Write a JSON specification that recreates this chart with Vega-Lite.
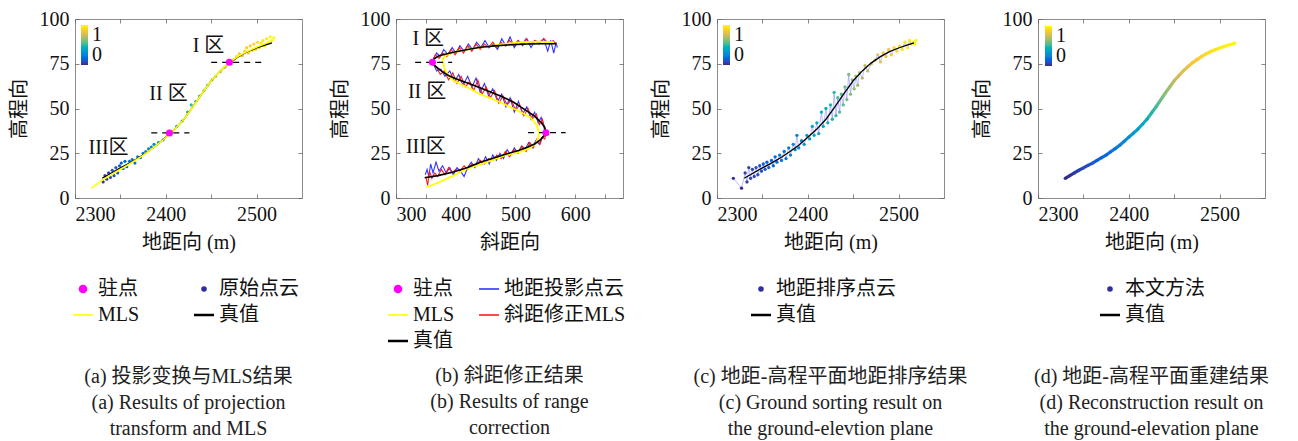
{
  "$schema": "https://vega.github.io/schema/vega-lite/v6.json",
  "background": "white",
  "padding": {"left": 8, "top": 8, "right": 0, "bottom": 0},
  "spacing": 94,
  "bounds": "flush",
  "resolve": {"scale": {"color": "independent", "fill": "independent", "x": "independent", "y": "independent"}, "legend": {"color": "independent", "fill": "independent"}},
  "datasets": {
    "trueG": [
      {"x":2330,"y":11},{"x":2340,"y":14},{"x":2350,"y":16.8},{"x":2360,"y":19.5},{"x":2370,"y":22.5},{"x":2380,"y":25.8},{"x":2390,"y":29.5},{"x":2400,"y":34},{"x":2410,"y":38.5},{"x":2420,"y":44},{"x":2430,"y":51},{"x":2440,"y":58.5},{"x":2450,"y":65.5},{"x":2460,"y":71},{"x":2470,"y":75.5},{"x":2480,"y":79},{"x":2490,"y":81.8},{"x":2500,"y":83.8},{"x":2510,"y":85.5},{"x":2517,"y":86.6}
    ],
    "mlsA": [
      {"x":2318,"y":5.5},{"x":2330,"y":10},{"x":2345,"y":14.5},{"x":2360,"y":19},{"x":2375,"y":23.8},{"x":2390,"y":29.5},{"x":2400,"y":33.8},{"x":2410,"y":38.5},{"x":2420,"y":44},{"x":2430,"y":51},{"x":2440,"y":58.5},{"x":2450,"y":65.5},{"x":2460,"y":71},{"x":2470,"y":75.8},{"x":2480,"y":79.3},{"x":2490,"y":82},{"x":2500,"y":84.3},{"x":2510,"y":86.5},{"x":2518,"y":88.5}
    ],
    "rawA": [
      {"x":2331,"y":9,"c":0.03},{"x":2333,"y":12.5,"c":0.05},{"x":2335,"y":10.5,"c":0.06},{"x":2337,"y":14,"c":0.07},{"x":2339,"y":11.5,"c":0.07},{"x":2341,"y":15.5,"c":0.09},{"x":2343,"y":12.5,"c":0.1},{"x":2345,"y":17,"c":0.11},{"x":2347,"y":14,"c":0.11},{"x":2349,"y":18,"c":0.12},{"x":2351,"y":19.5,"c":0.14},{"x":2353,"y":16.5,"c":0.14},{"x":2355,"y":20.5,"c":0.16},{"x":2357,"y":17.5,"c":0.16},{"x":2360,"y":20.5,"c":0.17},{"x":2363,"y":21.5,"c":0.19},{"x":2366,"y":19.5,"c":0.19},{"x":2369,"y":23,"c":0.21},{"x":2372,"y":22.5,"c":0.22},{"x":2375,"y":25,"c":0.23},{"x":2378,"y":26,"c":0.24},{"x":2381,"y":27.5,"c":0.26},{"x":2384,"y":28.5,"c":0.27},{"x":2387,"y":30,"c":0.28},{"x":2392,"y":31,"c":0.3},{"x":2397,"y":32.5,"c":0.32},
      {"x":2412,"y":40,"c":0.4},{"x":2418,"y":43,"c":0.44},{"x":2424,"y":48,"c":0.48},{"x":2428,"y":52,"c":0.5},{"x":2433,"y":54,"c":0.53},{"x":2437,"y":57,"c":0.55},{"x":2442,"y":60,"c":0.58},{"x":2446,"y":63,"c":0.6},{"x":2451,"y":66,"c":0.63},{"x":2455,"y":68,"c":0.66},{"x":2460,"y":70.5,"c":0.7},{"x":2465,"y":73,"c":0.73},
      {"x":2475,"y":77.5,"c":0.8},{"x":2478,"y":79,"c":0.82},{"x":2481,"y":80.5,"c":0.83},{"x":2484,"y":79.5,"c":0.84},{"x":2487,"y":82,"c":0.86},{"x":2489,"y":84,"c":0.87},{"x":2491,"y":81,"c":0.87},{"x":2493,"y":85,"c":0.88},{"x":2495,"y":82.5,"c":0.89},{"x":2497,"y":86,"c":0.9},{"x":2499,"y":83,"c":0.91},{"x":2501,"y":87,"c":0.92},{"x":2503,"y":84,"c":0.93},{"x":2505,"y":86.5,"c":0.94},{"x":2507,"y":88,"c":0.95},{"x":2509,"y":85,"c":0.95},{"x":2511,"y":89,"c":0.96},{"x":2513,"y":86.5,"c":0.97},{"x":2515,"y":90,"c":0.98},{"x":2517,"y":88,"c":0.99},{"x":2519,"y":89.5,"c":1}
    ],
    "stA": [{"x":2470,"y":75.8},{"x":2404,"y":36.3}],
    "dashA": [{"x":2450,"x2":2509,"y":75.8},{"x":2384,"x2":2426,"y":36.4}],
    "txtA": [{"x":2447,"y":85,"t":"I 区"},{"x":2403,"y":58,"t":"II 区"},{"x":2337,"y":28,"t":"III区"}],
    "trueB": [
      {"i":0,"x":348,"y":11.3},{"i":1,"x":370,"y":12.5},{"i":2,"x":396,"y":14.5},{"i":3,"x":420,"y":17},{"i":4,"x":441,"y":20},{"i":5,"x":465,"y":22.5},{"i":6,"x":486,"y":24.7},{"i":7,"x":505,"y":26.5},{"i":8,"x":520,"y":28.4},{"i":9,"x":532,"y":30.2},{"i":10,"x":541,"y":32.3},{"i":11,"x":547,"y":34.5},{"i":12,"x":551,"y":36.8},{"i":13,"x":549,"y":39.5},{"i":14,"x":543,"y":42.2},{"i":15,"x":531,"y":46},{"i":16,"x":515,"y":49.5},{"i":17,"x":497,"y":53.5},{"i":18,"x":475,"y":57},{"i":19,"x":452,"y":60},{"i":20,"x":430,"y":63},{"i":21,"x":408,"y":65.6},{"i":22,"x":390,"y":68},{"i":23,"x":378,"y":70.5},{"i":24,"x":369,"y":72.8},{"i":25,"x":363,"y":74.5},{"i":26,"x":361,"y":76},{"i":27,"x":364,"y":77.8},{"i":28,"x":372,"y":79.5},{"i":29,"x":396,"y":81.4},{"i":30,"x":420,"y":83},{"i":31,"x":441,"y":84.2},{"i":32,"x":465,"y":85},{"i":33,"x":486,"y":85.5},{"i":34,"x":520,"y":86},{"i":35,"x":545,"y":86.2},{"i":36,"x":568,"y":86.2}
    ],
    "mlsB": [
      {"i":0,"x":351,"y":6},{"i":1,"x":374,"y":9},{"i":2,"x":396,"y":12.6},{"i":3,"x":420,"y":16.5},{"i":4,"x":452,"y":20},{"i":5,"x":480,"y":23.5},{"i":6,"x":508,"y":25.8},{"i":7,"x":525,"y":28},{"i":8,"x":534,"y":30.5},{"i":9,"x":538,"y":33.5},{"i":10,"x":539,"y":36.8},{"i":11,"x":536,"y":40.5},{"i":12,"x":525,"y":45},{"i":13,"x":506,"y":48.5},{"i":14,"x":486,"y":51.7},{"i":15,"x":464,"y":55},{"i":16,"x":441,"y":58},{"i":17,"x":418,"y":62},{"i":18,"x":396,"y":65.6},{"i":19,"x":386,"y":69},{"i":20,"x":381,"y":72.5},{"i":21,"x":379,"y":75.5},{"i":22,"x":378,"y":77.7},{"i":23,"x":385,"y":80},{"i":24,"x":400,"y":81.8},{"i":25,"x":424,"y":83.3},{"i":26,"x":450,"y":84.6},{"i":27,"x":480,"y":86},{"i":28,"x":510,"y":87},{"i":29,"x":536,"y":87.4},{"i":30,"x":564,"y":87}
    ],
    "redB": [
      {"i":0,"x":350,"y":12},{"i":1,"x":353,"y":7},{"i":2,"x":356,"y":15},{"i":3,"x":360,"y":11},{"i":4,"x":365,"y":14},{"i":5,"x":370,"y":12},{"i":6,"x":376,"y":16},{"i":7,"x":382,"y":13},{"i":8,"x":388,"y":17},{"i":9,"x":394,"y":14},{"i":10,"x":400,"y":16},{"i":11,"x":407,"y":15},{"i":12,"x":414,"y":18},{"i":13,"x":420,"y":16},{"i":14,"x":427,"y":19},{"i":15,"x":434,"y":18},{"i":16,"x":441,"y":21},{"i":17,"x":448,"y":19},{"i":18,"x":455,"y":22},{"i":19,"x":462,"y":21},{"i":20,"x":469,"y":24},{"i":21,"x":476,"y":22},{"i":22,"x":483,"y":26},{"i":23,"x":490,"y":23},{"i":24,"x":497,"y":27},{"i":25,"x":504,"y":25},{"i":26,"x":511,"y":29},{"i":27,"x":518,"y":26},{"i":28,"x":524,"y":31},{"i":29,"x":530,"y":28},{"i":30,"x":536,"y":33},{"i":31,"x":541,"y":30},{"i":32,"x":545,"y":34},{"i":33,"x":549,"y":33},{"i":34,"x":551,"y":36},
      {"i":35,"x":548,"y":40},{"i":36,"x":545,"y":44},{"i":37,"x":540,"y":41},{"i":38,"x":535,"y":47},{"i":39,"x":528,"y":44},{"i":40,"x":521,"y":50},{"i":41,"x":514,"y":46},{"i":42,"x":507,"y":52},{"i":43,"x":500,"y":49},{"i":44,"x":493,"y":55},{"i":45,"x":486,"y":52},{"i":46,"x":479,"y":57},{"i":47,"x":472,"y":53},{"i":48,"x":465,"y":60},{"i":49,"x":458,"y":56},{"i":50,"x":451,"y":62},{"i":51,"x":444,"y":58},{"i":52,"x":437,"y":66},{"i":53,"x":430,"y":60},{"i":54,"x":423,"y":65},{"i":55,"x":416,"y":62},{"i":56,"x":409,"y":68},{"i":57,"x":402,"y":64},{"i":58,"x":395,"y":70},{"i":59,"x":388,"y":66},{"i":60,"x":381,"y":71},{"i":61,"x":374,"y":69},{"i":62,"x":368,"y":73},{"i":63,"x":363,"y":75},
      {"i":64,"x":362,"y":77},{"i":65,"x":366,"y":80},{"i":66,"x":372,"y":78},{"i":67,"x":378,"y":81},{"i":68,"x":385,"y":79},{"i":69,"x":392,"y":83},{"i":70,"x":399,"y":80},{"i":71,"x":406,"y":84},{"i":72,"x":413,"y":81},{"i":73,"x":420,"y":85},{"i":74,"x":427,"y":82},{"i":75,"x":434,"y":86},{"i":76,"x":441,"y":83},{"i":77,"x":448,"y":86},{"i":78,"x":455,"y":84},{"i":79,"x":462,"y":87},{"i":80,"x":469,"y":84},{"i":81,"x":476,"y":87},{"i":82,"x":483,"y":85},{"i":83,"x":490,"y":88},{"i":84,"x":497,"y":85},{"i":85,"x":504,"y":88},{"i":86,"x":511,"y":86},{"i":87,"x":518,"y":89},{"i":88,"x":525,"y":86},{"i":89,"x":532,"y":88},{"i":90,"x":540,"y":87},{"i":91,"x":548,"y":89},{"i":92,"x":556,"y":86},{"i":93,"x":563,"y":88},{"i":94,"x":568,"y":86}
    ],
    "blueB": [
      {"i":0,"x":349,"y":13},{"i":1,"x":352,"y":16},{"i":2,"x":355,"y":12},{"i":3,"x":358,"y":19},{"i":4,"x":362,"y":14},{"i":5,"x":367,"y":20},{"i":6,"x":372,"y":15},{"i":7,"x":378,"y":18},{"i":8,"x":384,"y":14},{"i":9,"x":390,"y":17},{"i":10,"x":396,"y":13},{"i":11,"x":402,"y":17},{"i":12,"x":408,"y":15},{"i":13,"x":414,"y":12},{"i":14,"x":420,"y":17},{"i":15,"x":426,"y":20},{"i":16,"x":432,"y":17},{"i":17,"x":438,"y":22},{"i":18,"x":444,"y":19},{"i":19,"x":450,"y":23},{"i":20,"x":456,"y":19},{"i":21,"x":462,"y":24},{"i":22,"x":468,"y":21},{"i":23,"x":474,"y":25},{"i":24,"x":480,"y":22},{"i":25,"x":486,"y":27},{"i":26,"x":492,"y":24},{"i":27,"x":498,"y":28},{"i":28,"x":504,"y":25},{"i":29,"x":510,"y":29},{"i":30,"x":516,"y":27},{"i":31,"x":522,"y":31},{"i":32,"x":528,"y":28},{"i":33,"x":534,"y":32},{"i":34,"x":540,"y":30},{"i":35,"x":545,"y":34},{"i":36,"x":550,"y":35},
      {"i":37,"x":547,"y":41},{"i":38,"x":543,"y":45},{"i":39,"x":538,"y":42},{"i":40,"x":532,"y":48},{"i":41,"x":526,"y":44},{"i":42,"x":519,"y":51},{"i":43,"x":512,"y":47},{"i":44,"x":505,"y":54},{"i":45,"x":498,"y":48},{"i":46,"x":491,"y":56},{"i":47,"x":484,"y":51},{"i":48,"x":477,"y":58},{"i":49,"x":470,"y":54},{"i":50,"x":462,"y":61},{"i":51,"x":455,"y":57},{"i":52,"x":448,"y":64},{"i":53,"x":441,"y":59},{"i":54,"x":434,"y":67},{"i":55,"x":427,"y":62},{"i":56,"x":420,"y":68},{"i":57,"x":412,"y":63},{"i":58,"x":405,"y":69},{"i":59,"x":398,"y":65},{"i":60,"x":390,"y":71},{"i":61,"x":382,"y":68},{"i":62,"x":375,"y":72},{"i":63,"x":368,"y":71},{"i":64,"x":364,"y":74},
      {"i":65,"x":363,"y":78},{"i":66,"x":368,"y":81},{"i":67,"x":374,"y":79},{"i":68,"x":380,"y":83},{"i":69,"x":387,"y":80},{"i":70,"x":394,"y":84},{"i":71,"x":400,"y":81},{"i":72,"x":407,"y":85},{"i":73,"x":414,"y":82},{"i":74,"x":421,"y":86},{"i":75,"x":428,"y":83},{"i":76,"x":435,"y":87},{"i":77,"x":442,"y":84},{"i":78,"x":449,"y":88},{"i":79,"x":456,"y":84},{"i":80,"x":463,"y":86},{"i":81,"x":470,"y":83},{"i":82,"x":477,"y":89},{"i":83,"x":484,"y":85},{"i":84,"x":491,"y":90},{"i":85,"x":498,"y":84},{"i":86,"x":505,"y":88},{"i":87,"x":512,"y":85},{"i":88,"x":519,"y":89},{"i":89,"x":526,"y":84},{"i":90,"x":533,"y":88},{"i":91,"x":540,"y":86},{"i":92,"x":547,"y":89},{"i":93,"x":554,"y":82},{"i":94,"x":559,"y":88},{"i":95,"x":564,"y":81},{"i":96,"x":568,"y":87},{"i":97,"x":570,"y":84}
    ],
    "stB": [{"x":361,"y":75.8},{"x":551,"y":36.5}],
    "dashB": [{"x":332,"x2":394,"y":75.8},{"x":521,"x2":584,"y":36.5}],
    "txtB": [{"x":354,"y":88.8,"t":"I 区"},{"x":352,"y":59,"t":"II 区"},{"x":350,"y":28.4,"t":"III区"}],
    "rawC": [
      {"x":2318,"y":11,"c":0.02},{"x":2327,"y":5.5,"c":0},{"x":2331,"y":14,"c":0.05},{"x":2333,"y":9,"c":0.04},{"x":2335,"y":17,"c":0.06},{"x":2337,"y":11,"c":0.05},{"x":2339,"y":16,"c":0.07},{"x":2341,"y":12,"c":0.07},{"x":2343,"y":17,"c":0.09},{"x":2345,"y":13,"c":0.09},{"x":2347,"y":18,"c":0.1},{"x":2349,"y":15,"c":0.1},{"x":2351,"y":19,"c":0.12},{"x":2353,"y":16,"c":0.12},{"x":2355,"y":20,"c":0.13},{"x":2357,"y":17,"c":0.14},{"x":2360,"y":21,"c":0.15},{"x":2362,"y":18,"c":0.16},{"x":2364,"y":23,"c":0.17},{"x":2366,"y":20,"c":0.18},{"x":2369,"y":24,"c":0.19},{"x":2371,"y":21,"c":0.2},{"x":2374,"y":26,"c":0.21},{"x":2376,"y":22,"c":0.22},{"x":2379,"y":28,"c":0.23},{"x":2381,"y":24,"c":0.24},{"x":2384,"y":30,"c":0.25},{"x":2386,"y":27,"c":0.26},{"x":2388,"y":35,"c":0.27},{"x":2390,"y":28,"c":0.28},{"x":2393,"y":32,"c":0.3},{"x":2396,"y":30,"c":0.31},{"x":2399,"y":35,"c":0.33},{"x":2402,"y":33,"c":0.35},{"x":2405,"y":40,"c":0.37},{"x":2407,"y":35,"c":0.38},{"x":2410,"y":42,"c":0.4},{"x":2412,"y":36,"c":0.41},{"x":2415,"y":48,"c":0.43},{"x":2417,"y":40,"c":0.44},{"x":2420,"y":50,"c":0.45},{"x":2422,"y":42,"c":0.46},{"x":2425,"y":52,"c":0.48},{"x":2427,"y":44,"c":0.49},{"x":2429,"y":59,"c":0.5},{"x":2431,"y":46,"c":0.51},{"x":2433,"y":56,"c":0.53},{"x":2435,"y":48,"c":0.54},{"x":2437,"y":58,"c":0.55},{"x":2439,"y":52,"c":0.56},{"x":2441,"y":62,"c":0.58},{"x":2443,"y":55,"c":0.59},{"x":2445,"y":69,"c":0.6},{"x":2447,"y":58,"c":0.62},{"x":2449,"y":66,"c":0.63},{"x":2451,"y":61,"c":0.64},{"x":2453,"y":68,"c":0.66},{"x":2455,"y":63,"c":0.67},{"x":2457,"y":70,"c":0.68},{"x":2460,"y":67,"c":0.7},{"x":2463,"y":74,"c":0.72},{"x":2466,"y":71,"c":0.74},{"x":2470,"y":75,"c":0.77},{"x":2474,"y":77,"c":0.8},{"x":2477,"y":80,"c":0.81},{"x":2480,"y":76,"c":0.82},{"x":2483,"y":81,"c":0.84},{"x":2486,"y":79,"c":0.85},{"x":2489,"y":83,"c":0.87},{"x":2492,"y":80,"c":0.88},{"x":2495,"y":84,"c":0.9},{"x":2498,"y":82,"c":0.91},{"x":2501,"y":85,"c":0.93},{"x":2504,"y":83,"c":0.94},{"x":2507,"y":87,"c":0.95},{"x":2510,"y":84,"c":0.96},{"x":2512,"y":88,"c":0.97},{"x":2514,"y":86,"c":0.98},{"x":2516,"y":87,"c":0.99},{"x":2518,"y":86,"c":1},{"x":2519,"y":88,"c":1}
    ],
    "recD": [
      {"x":2330,"y":11,"c":0},{"x":2335,"y":12.5,"c":0.02},{"x":2340,"y":14,"c":0.04},{"x":2345,"y":15.5,"c":0.06},{"x":2350,"y":16.8,"c":0.08},{"x":2355,"y":18.2,"c":0.09},{"x":2360,"y":19.5,"c":0.11},{"x":2365,"y":21,"c":0.13},{"x":2370,"y":22.5,"c":0.15},{"x":2375,"y":24,"c":0.17},{"x":2380,"y":25.8,"c":0.19},{"x":2385,"y":27.6,"c":0.22},{"x":2390,"y":29.5,"c":0.24},{"x":2395,"y":31.7,"c":0.27},{"x":2400,"y":34,"c":0.3},{"x":2405,"y":36.2,"c":0.33},{"x":2410,"y":38.5,"c":0.36},{"x":2415,"y":41.2,"c":0.4},{"x":2420,"y":44,"c":0.43},{"x":2425,"y":47.5,"c":0.48},{"x":2430,"y":51,"c":0.53},{"x":2435,"y":54.7,"c":0.58},{"x":2440,"y":58.5,"c":0.63},{"x":2445,"y":62,"c":0.67},{"x":2450,"y":65.5,"c":0.72},{"x":2455,"y":68.3,"c":0.75},{"x":2460,"y":71,"c":0.79},{"x":2465,"y":73.3,"c":0.82},{"x":2470,"y":75.5,"c":0.85},{"x":2475,"y":77.3,"c":0.87},{"x":2480,"y":79,"c":0.89},{"x":2485,"y":80.5,"c":0.91},{"x":2490,"y":81.8,"c":0.93},{"x":2495,"y":82.8,"c":0.94},{"x":2500,"y":83.8,"c":0.96},{"x":2505,"y":84.7,"c":0.97},{"x":2510,"y":85.5,"c":0.98},{"x":2515,"y":86.2,"c":0.99},{"x":2517,"y":86.6,"c":1}
    ]
  },
  "hconcat": [
    {
      "width": 227, "height": 179,
      "title": {"text": ["(a) 投影变换与MLS结果", "(a) Results of projection", "transform and MLS"], "orient": "bottom", "anchor": "middle", "frame": "group", "offset": 42},
      "layer": [
        {"data": {"name": "rawA"}, "mark": {"type": "point", "filled": true, "size": 10, "opacity": 1},
         "encoding": {
           "x": {"field": "x", "type": "quantitative", "scale": {"domain": [2300, 2550], "nice": false}, "axis": {"orient": "bottom", "title": "地距向 (m)", "values": [2300, 2350, 2400, 2450, 2500], "format": "d", "labelExpr": "datum.value % 100 == 0 ? datum.label : ''"}},
           "y": {"field": "y", "type": "quantitative", "scale": {"domain": [0, 100], "nice": false}, "axis": {"orient": "left", "title": "高程向", "values": [0, 25, 50, 75, 100]}},
           "fill": {"field": "c", "type": "quantitative", "scale": {"domain": [0, 0.125, 0.25, 0.375, 0.5, 0.625, 0.75, 0.875, 1], "range": ["#352a87", "#0f5cdd", "#1481d6", "#06a4ca", "#2eb7a4", "#87bf77", "#d1bb59", "#fec832", "#f9fb0e"]},
             "legend": {"orient": "top-left", "offset": 6, "title": null, "values": [0, 1], "format": "d", "direction": "vertical", "gradientLength": 40, "gradientThickness": 7, "gradientStrokeWidth": 0, "labelFontSize": 20, "labelOffset": 4, "padding": 0}}
         }},
        {"data": {"name": "trueG"}, "mark": {"type": "line", "strokeWidth": 1.3},
         "encoding": {"x": {"field": "x", "type": "quantitative", "axis": null}, "y": {"field": "y", "type": "quantitative", "axis": null},
           "color": {"datum": "真值", "type": "nominal", "scale": {"domain": ["驻点", "原始点云", "MLS", "真值"], "range": ["#ff00ff", "#2d2d9c", "#ffff00", "#000000"]},
             "legend": {"orient": "none", "legendX": -2, "legendY": 260, "columns": 2, "direction": "horizontal", "title": null, "columnPadding": 49, "rowPadding": 6, "symbolSize": 400, "labelOffset": 5, "padding": 0,
               "encode": {"symbols": {"update": {
                 "shape": {"signal": "indexof(['MLS','真值','地距投影点云','斜距修正MLS'], datum.value) >= 0 ? 'stroke' : 'circle'"},
                 "size": {"signal": "datum.value == '驻点' ? 50 : indexof(['MLS','真值','地距投影点云','斜距修正MLS'], datum.value) >= 0 ? 400 : 16"},
                 "fill": {"signal": "datum.value == '驻点' ? '#ff00ff' : indexof(['原始点云','地距排序点云','本文方法'], datum.value) >= 0 ? '#2d2d9c' : 'transparent'"},
                 "stroke": {"signal": "datum.value == 'MLS' ? '#ffff00' : datum.value == '真值' ? '#222222' : datum.value == '地距投影点云' ? '#4a4aff' : datum.value == '斜距修正MLS' ? '#ff7070' : 'transparent'"},
                 "strokeWidth": {"signal": "datum.value == '真值' ? 2.5 : 1.6"},
                 "opacity": {"value": 1}
               }}}}}}},
        {"data": {"name": "mlsA"}, "mark": {"type": "line", "strokeWidth": 1.6},
         "encoding": {"x": {"field": "x", "type": "quantitative", "axis": null}, "y": {"field": "y", "type": "quantitative", "axis": null},
           "color": {"datum": "MLS", "type": "nominal", "scale": {"domain": ["驻点", "原始点云", "MLS", "真值"], "range": ["#ff00ff", "#2d2d9c", "#ffff00", "#000000"]}}}},
        {"data": {"name": "dashA"}, "mark": {"type": "rule", "strokeDash": [6, 5], "color": "#000000", "strokeWidth": 1.2},
         "encoding": {"x": {"field": "x", "type": "quantitative", "axis": null}, "x2": {"field": "x2"}, "y": {"field": "y", "type": "quantitative", "axis": null}}},
        {"data": {"name": "stA"}, "mark": {"type": "point", "filled": true, "size": 50, "opacity": 1},
         "encoding": {"x": {"field": "x", "type": "quantitative", "axis": null}, "y": {"field": "y", "type": "quantitative", "axis": null},
           "color": {"datum": "驻点", "type": "nominal", "scale": {"domain": ["驻点", "原始点云", "MLS", "真值"], "range": ["#ff00ff", "#2d2d9c", "#ffff00", "#000000"]}}}},
        {"data": {"name": "txtA"}, "mark": {"type": "text", "fontSize": 20, "color": "#111111"},
         "encoding": {"x": {"field": "x", "type": "quantitative", "axis": {"orient": "top", "labels": false, "title": null, "values": [2300, 2350, 2400, 2450, 2500]}}, "y": {"field": "y", "type": "quantitative", "axis": {"orient": "right", "labels": false, "title": null, "values": [0, 25, 50, 75, 100]}}, "text": {"field": "t"}}}
      ]
    },
    {
      "width": 227, "height": 179,
      "title": {"text": ["(b) 斜距修正结果", "(b) Results of range", "correction"], "orient": "bottom", "anchor": "middle", "frame": "group", "offset": 15},
      "layer": [
        {"data": {"name": "blueB"}, "mark": {"type": "line", "strokeWidth": 1.1},
         "encoding": {
           "x": {"field": "x", "type": "quantitative", "scale": {"domain": [300, 680], "nice": false}, "axis": {"orient": "bottom", "title": "斜距向", "values": [300, 350, 400, 450, 500, 550, 600, 650], "format": "d", "labelExpr": "datum.value % 100 == 0 ? datum.label : ''"}},
           "y": {"field": "y", "type": "quantitative", "scale": {"domain": [0, 100], "nice": false}, "axis": {"orient": "left", "title": "高程向", "values": [0, 25, 50, 75, 100]}},
           "order": {"field": "i", "type": "quantitative"},
           "color": {"datum": "地距投影点云", "type": "nominal", "scale": {"domain": ["驻点", "地距投影点云", "MLS", "斜距修正MLS", "真值"], "range": ["#ff00ff", "#3333ff", "#ffff00", "#ff1a1a", "#000000"]},
             "legend": {"orient": "none", "legendX": -8, "legendY": 260, "columns": 2, "direction": "horizontal", "title": null, "columnPadding": 20, "rowPadding": 6, "symbolSize": 400, "labelOffset": 5, "padding": 0,
               "encode": {"symbols": {"update": {
                 "shape": {"signal": "indexof(['MLS','真值','地距投影点云','斜距修正MLS'], datum.value) >= 0 ? 'stroke' : 'circle'"},
                 "size": {"signal": "datum.value == '驻点' ? 50 : indexof(['MLS','真值','地距投影点云','斜距修正MLS'], datum.value) >= 0 ? 400 : 16"},
                 "fill": {"signal": "datum.value == '驻点' ? '#ff00ff' : indexof(['原始点云','地距排序点云','本文方法'], datum.value) >= 0 ? '#2d2d9c' : 'transparent'"},
                 "stroke": {"signal": "datum.value == 'MLS' ? '#ffff00' : datum.value == '真值' ? '#222222' : datum.value == '地距投影点云' ? '#4a4aff' : datum.value == '斜距修正MLS' ? '#ff7070' : 'transparent'"},
                 "strokeWidth": {"signal": "datum.value == '真值' ? 2.5 : 1.6"},
                 "opacity": {"value": 1}
               }}}}}}},
        {"data": {"name": "redB"}, "mark": {"type": "line", "strokeWidth": 1.1},
         "encoding": {"x": {"field": "x", "type": "quantitative", "axis": null}, "y": {"field": "y", "type": "quantitative", "axis": null}, "order": {"field": "i", "type": "quantitative"},
           "color": {"datum": "斜距修正MLS", "type": "nominal", "scale": {"domain": ["驻点", "地距投影点云", "MLS", "斜距修正MLS", "真值"], "range": ["#ff00ff", "#3333ff", "#ffff00", "#ff1a1a", "#000000"]}}}},
        {"data": {"name": "mlsB"}, "mark": {"type": "line", "strokeWidth": 1.8},
         "encoding": {"x": {"field": "x", "type": "quantitative", "axis": null}, "y": {"field": "y", "type": "quantitative", "axis": null}, "order": {"field": "i", "type": "quantitative"},
           "color": {"datum": "MLS", "type": "nominal", "scale": {"domain": ["驻点", "地距投影点云", "MLS", "斜距修正MLS", "真值"], "range": ["#ff00ff", "#3333ff", "#ffff00", "#ff1a1a", "#000000"]}}}},
        {"data": {"name": "trueB"}, "mark": {"type": "line", "strokeWidth": 1.6},
         "encoding": {"x": {"field": "x", "type": "quantitative", "axis": null}, "y": {"field": "y", "type": "quantitative", "axis": null}, "order": {"field": "i", "type": "quantitative"},
           "color": {"datum": "真值", "type": "nominal", "scale": {"domain": ["驻点", "地距投影点云", "MLS", "斜距修正MLS", "真值"], "range": ["#ff00ff", "#3333ff", "#ffff00", "#ff1a1a", "#000000"]}}}},
        {"data": {"name": "dashB"}, "mark": {"type": "rule", "strokeDash": [6, 5], "color": "#000000", "strokeWidth": 1.2},
         "encoding": {"x": {"field": "x", "type": "quantitative", "axis": null}, "x2": {"field": "x2"}, "y": {"field": "y", "type": "quantitative", "axis": null}}},
        {"data": {"name": "stB"}, "mark": {"type": "point", "filled": true, "size": 50, "opacity": 1},
         "encoding": {"x": {"field": "x", "type": "quantitative", "axis": null}, "y": {"field": "y", "type": "quantitative", "axis": null},
           "color": {"datum": "驻点", "type": "nominal", "scale": {"domain": ["驻点", "地距投影点云", "MLS", "斜距修正MLS", "真值"], "range": ["#ff00ff", "#3333ff", "#ffff00", "#ff1a1a", "#000000"]}}}},
        {"data": {"name": "txtB"}, "mark": {"type": "text", "fontSize": 20, "color": "#111111"},
         "encoding": {"x": {"field": "x", "type": "quantitative", "axis": {"orient": "top", "labels": false, "title": null, "values": [300, 350, 400, 450, 500, 550, 600, 650]}}, "y": {"field": "y", "type": "quantitative", "axis": {"orient": "right", "labels": false, "title": null, "values": [0, 25, 50, 75, 100]}}, "text": {"field": "t"}}}
      ]
    },
    {
      "width": 227, "height": 179,
      "title": {"text": ["(c) 地距-高程平面地距排序结果", "(c) Ground sorting result on", "the ground-elevtion plane"], "orient": "bottom", "anchor": "middle", "frame": "group", "offset": 42},
      "layer": [
        {"data": {"name": "rawC"}, "mark": {"type": "line", "strokeWidth": 0.8, "color": "#7b7bff", "opacity": 0.65},
         "encoding": {
           "x": {"field": "x", "type": "quantitative", "scale": {"domain": [2300, 2550], "nice": false}, "axis": {"orient": "bottom", "title": "地距向 (m)", "values": [2300, 2350, 2400, 2450, 2500], "format": "d", "labelExpr": "datum.value % 100 == 0 ? datum.label : ''"}},
           "y": {"field": "y", "type": "quantitative", "scale": {"domain": [0, 100], "nice": false}, "axis": {"orient": "left", "title": "高程向", "values": [0, 25, 50, 75, 100]}}
         }},
        {"data": {"name": "rawC"}, "mark": {"type": "point", "filled": true, "size": 11, "opacity": 1},
         "encoding": {"x": {"field": "x", "type": "quantitative", "axis": null}, "y": {"field": "y", "type": "quantitative", "axis": null},
           "fill": {"field": "c", "type": "quantitative", "scale": {"domain": [0, 0.125, 0.25, 0.375, 0.5, 0.625, 0.75, 0.875, 1], "range": ["#352a87", "#0f5cdd", "#1481d6", "#06a4ca", "#2eb7a4", "#87bf77", "#d1bb59", "#fec832", "#f9fb0e"]},
             "legend": {"orient": "top-left", "offset": 6, "title": null, "values": [0, 1], "format": "d", "direction": "vertical", "gradientLength": 40, "gradientThickness": 7, "gradientStrokeWidth": 0, "labelFontSize": 20, "labelOffset": 4, "padding": 0}}}},
        {"data": {"name": "trueG"}, "mark": {"type": "line", "strokeWidth": 1.3},
         "encoding": {"x": {"field": "x", "type": "quantitative", "axis": {"orient": "top", "labels": false, "title": null, "values": [2300, 2350, 2400, 2450, 2500]}}, "y": {"field": "y", "type": "quantitative", "axis": {"orient": "right", "labels": false, "title": null, "values": [0, 25, 50, 75, 100]}},
           "color": {"datum": "真值", "type": "nominal", "scale": {"domain": ["地距排序点云", "真值"], "range": ["#2d2d9c", "#000000"]},
             "legend": {"orient": "none", "legendX": 34, "legendY": 260, "columns": 1, "title": null, "rowPadding": 6, "symbolSize": 400, "labelOffset": 5, "padding": 0,
               "encode": {"symbols": {"update": {
                 "shape": {"signal": "indexof(['MLS','真值','地距投影点云','斜距修正MLS'], datum.value) >= 0 ? 'stroke' : 'circle'"},
                 "size": {"signal": "datum.value == '驻点' ? 50 : indexof(['MLS','真值','地距投影点云','斜距修正MLS'], datum.value) >= 0 ? 400 : 16"},
                 "fill": {"signal": "datum.value == '驻点' ? '#ff00ff' : indexof(['原始点云','地距排序点云','本文方法'], datum.value) >= 0 ? '#2d2d9c' : 'transparent'"},
                 "stroke": {"signal": "datum.value == 'MLS' ? '#ffff00' : datum.value == '真值' ? '#222222' : datum.value == '地距投影点云' ? '#4a4aff' : datum.value == '斜距修正MLS' ? '#ff7070' : 'transparent'"},
                 "strokeWidth": {"signal": "datum.value == '真值' ? 2.5 : 1.6"},
                 "opacity": {"value": 1}
               }}}}}}}
      ]
    },
    {
      "width": 227, "height": 179,
      "title": {"text": ["(d) 地距-高程平面重建结果", "(d) Reconstruction result on", "the ground-elevation plane"], "orient": "bottom", "anchor": "middle", "frame": "group", "offset": 42},
      "layer": [
        {"data": {"name": "trueG"}, "mark": {"type": "line", "strokeWidth": 1.3},
         "encoding": {
           "x": {"field": "x", "type": "quantitative", "scale": {"domain": [2300, 2550], "nice": false}, "axis": {"orient": "bottom", "title": "地距向 (m)", "values": [2300, 2350, 2400, 2450, 2500], "format": "d", "labelExpr": "datum.value % 100 == 0 ? datum.label : ''"}},
           "y": {"field": "y", "type": "quantitative", "scale": {"domain": [0, 100], "nice": false}, "axis": {"orient": "left", "title": "高程向", "values": [0, 25, 50, 75, 100]}},
           "color": {"datum": "真值", "type": "nominal", "scale": {"domain": ["本文方法", "真值"], "range": ["#2d2d9c", "#000000"]},
             "legend": {"orient": "none", "legendX": 62, "legendY": 260, "columns": 1, "title": null, "rowPadding": 6, "symbolSize": 400, "labelOffset": 5, "padding": 0,
               "encode": {"symbols": {"update": {
                 "shape": {"signal": "indexof(['MLS','真值','地距投影点云','斜距修正MLS'], datum.value) >= 0 ? 'stroke' : 'circle'"},
                 "size": {"signal": "datum.value == '驻点' ? 50 : indexof(['MLS','真值','地距投影点云','斜距修正MLS'], datum.value) >= 0 ? 400 : 16"},
                 "fill": {"signal": "datum.value == '驻点' ? '#ff00ff' : indexof(['原始点云','地距排序点云','本文方法'], datum.value) >= 0 ? '#2d2d9c' : 'transparent'"},
                 "stroke": {"signal": "datum.value == 'MLS' ? '#ffff00' : datum.value == '真值' ? '#222222' : datum.value == '地距投影点云' ? '#4a4aff' : datum.value == '斜距修正MLS' ? '#ff7070' : 'transparent'"},
                 "strokeWidth": {"signal": "datum.value == '真值' ? 2.5 : 1.6"},
                 "opacity": {"value": 1}
               }}}}}}},
        {"data": {"name": "recD"}, "mark": {"type": "line", "strokeWidth": 3.2,
           "color": {"gradient": "linear", "x1": 0, "y1": 1, "x2": 0, "y2": 0, "stops": [{"offset": 0, "color": "#352a87"}, {"offset": 0.125, "color": "#0f5cdd"}, {"offset": 0.25, "color": "#1481d6"}, {"offset": 0.375, "color": "#06a4ca"}, {"offset": 0.5, "color": "#2eb7a4"}, {"offset": 0.625, "color": "#87bf77"}, {"offset": 0.75, "color": "#d1bb59"}, {"offset": 0.875, "color": "#fec832"}, {"offset": 1, "color": "#f9fb0e"}]}},
         "encoding": {"x": {"field": "x", "type": "quantitative", "axis": null}, "y": {"field": "y", "type": "quantitative", "axis": null}}},
        {"data": {"name": "recD"}, "mark": {"type": "point", "filled": true, "size": 10, "opacity": 1},
         "encoding": {"x": {"field": "x", "type": "quantitative", "axis": {"orient": "top", "labels": false, "title": null, "values": [2300, 2350, 2400, 2450, 2500]}}, "y": {"field": "y", "type": "quantitative", "axis": {"orient": "right", "labels": false, "title": null, "values": [0, 25, 50, 75, 100]}},
           "fill": {"field": "c", "type": "quantitative", "scale": {"domain": [0, 0.125, 0.25, 0.375, 0.5, 0.625, 0.75, 0.875, 1], "range": ["#352a87", "#0f5cdd", "#1481d6", "#06a4ca", "#2eb7a4", "#87bf77", "#d1bb59", "#fec832", "#f9fb0e"]},
             "legend": {"orient": "top-left", "offset": 7, "title": null, "values": [0, 1], "format": "d", "direction": "vertical", "gradientLength": 40, "gradientThickness": 7, "gradientStrokeWidth": 0, "labelFontSize": 20, "labelOffset": 4, "padding": 0}}}}
      ]
    }
  ],
  "config": {
    "font": "Liberation Serif, Noto Sans CJK SC",
    "view": {"stroke": "#8c8c8c", "strokeWidth": 1},
    "axis": {"domain": false, "grid": false, "ticks": true, "tickColor": "#666666", "tickSize": -4, "tickWidth": 0.8, "labelFont": "Liberation Serif", "labelFontSize": 20, "labelColor": "#111111", "labelPadding": 10, "titleFont": "Liberation Serif, Noto Sans CJK SC", "titleFontSize": 20, "titleFontWeight": "normal", "titleColor": "#111111"},
    "axisX": {"titlePadding": 8},
    "axisY": {"titlePadding": 10},
    "legend": {"labelFont": "Liberation Serif, Noto Sans CJK SC", "labelFontSize": 20, "labelColor": "#111111"},
    "title": {"font": "Liberation Serif, Noto Sans CJK SC", "fontSize": 20, "fontWeight": "normal", "color": "#222222", "lineHeight": 26},
    "text": {"font": "Liberation Serif, Noto Sans CJK SC"}
  }
}
